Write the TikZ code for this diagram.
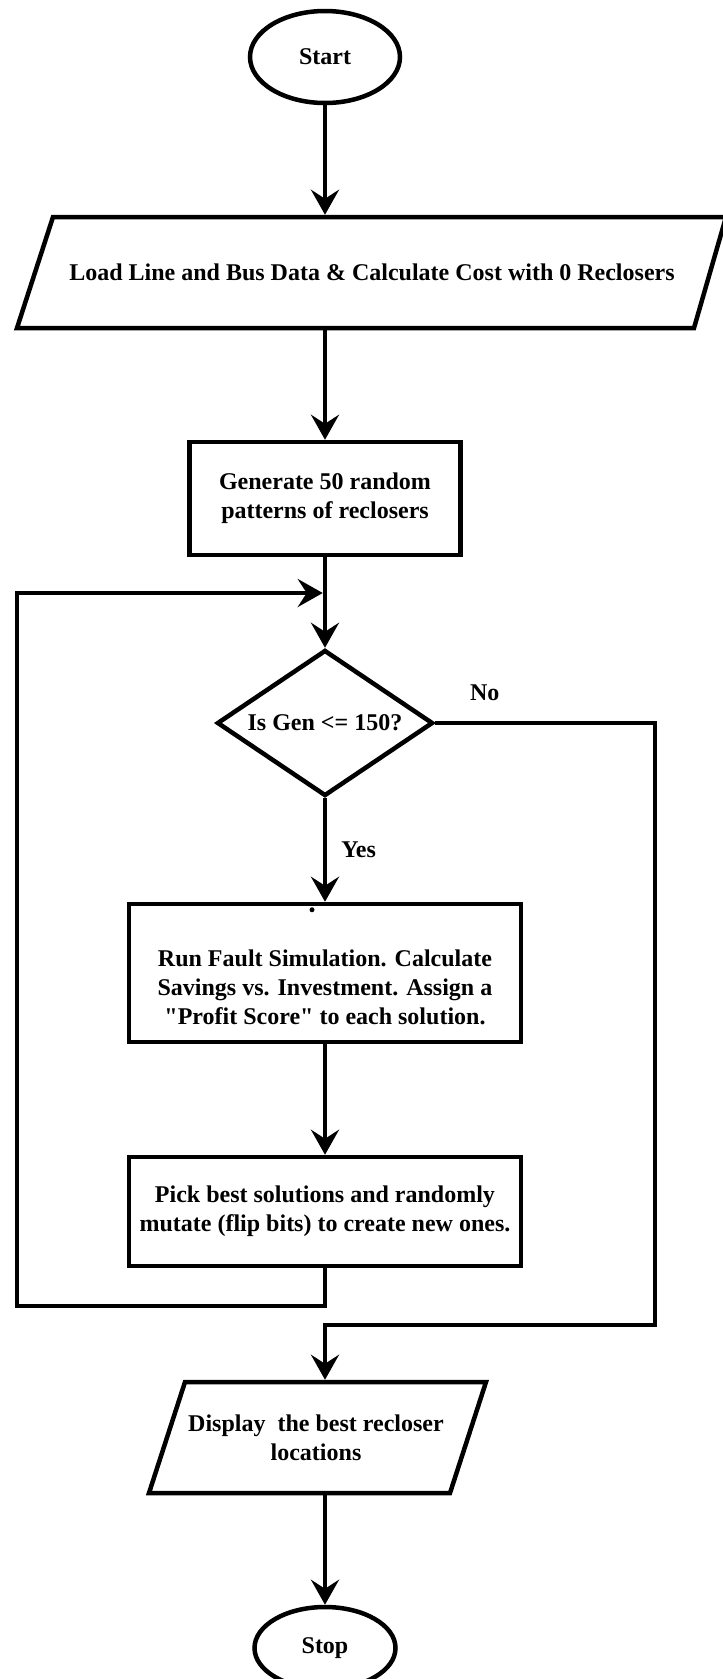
\documentclass[tikz,border=0pt]{standalone}
\usepackage{fontspec}
% a family of its own keeps the straight ASCII quotes (no tex-text mapping)
\newfontfamily\diagfont{Liberation Serif}
\usetikzlibrary{shapes.geometric, arrows.meta, calc}

\begin{document}
\begin{tikzpicture}[x=1pt, y=-1pt,
  every node/.style={font=\diagfont\fontsize{24}{29}\selectfont\bfseries, inner sep=0pt},
  box/.style={draw, line width=4.5pt, rectangle, align=center},
  term/.style={draw, line width=4.5pt, ellipse},
  decide/.style={draw, line width=4.5pt, diamond, aspect=1.48},
  iobody/.style={rectangle, align=center, outer sep=2.25pt},
  ioframe/.style={line width=4.5pt, line join=miter},
  flow/.style={line width=4.5pt, line join=miter,
    -{Stealth[length=25pt, width=28pt, inset=9pt]}}]

\useasboundingbox (0,0) rectangle (723,1679);

% ---------- nodes ----------
\node[term, minimum width=150pt, minimum height=92pt] (start) at (325,57) {Start};

\node[iobody, minimum width=640pt, minimum height=111pt] (load) at (372,272.5)
  {Load Line and Bus Data \& Calculate Cost with 0 Reclosers};
\draw[ioframe] (53,217) -- (726,217) -- (694,328) -- (17,328) -- cycle;

\node[box, minimum width=271pt, minimum height=113pt] (gen) at (325,498.5)
  {Generate 50 random\\patterns of reclosers};

\node[decide, minimum width=216pt, minimum height=146pt] (dec) at (325,723)
  {Is Gen <= 150?};

\node[box, minimum width=392pt, minimum height=138pt] (run) at (325,973) {};
\node[align=center] (runtext) at (325,987)
  {Run Fault Simulation. Calculate\\Savings vs. Investment. Assign a\\"Profit Score" to each solution.};
\fill (run.north) ++(-13,8) circle[radius=2.5];

\node[box, minimum width=392pt, minimum height=109pt] (pick) at (325,1211.5)
  {Pick best solutions and randomly\\mutate (flip bits) to create new ones.};

\node[iobody, minimum width=300pt, minimum height=111pt] (disp) at (316,1437.5)
  {Display\ \ the best recloser\\locations};
\draw[ioframe] (185,1382) -- (486,1382) -- (450,1493) -- (149,1493) -- cycle;

\node[term, minimum width=141pt, minimum height=82pt] (stop) at (325,1648) {Stop};

% ---------- routing points ----------
\coordinate (loopTop) at (17,593);
\coordinate (loopBot) at (17,1306);
\coordinate (noCorner) at (655,1325);
\coordinate (merge) at (325,1325);

% ---------- connectors ----------
\draw[flow] (start.south) -- (start.south |- load.north);
\draw[flow] (gen |- load.south) -- (gen.north);
\draw[flow] (gen.south) -- (dec.north);
\draw[flow] (dec.south) -- node[midway, anchor=west, xshift=14pt] {Yes} (run.north);
\draw[flow] (run.south) -- (pick.north);
\draw[flow, shorten >=2.25pt] (pick.south) |- (loopBot) -- (loopTop) -- (loopTop -| gen);
\draw[flow] (dec.east) -| node[pos=0.1125, anchor=south, yshift=20pt] {No} (noCorner)
  -- (merge) -- (merge |- disp.north);
\draw[flow] (disp.south -| stop) -- (stop.north);

\end{tikzpicture}
\end{document}
